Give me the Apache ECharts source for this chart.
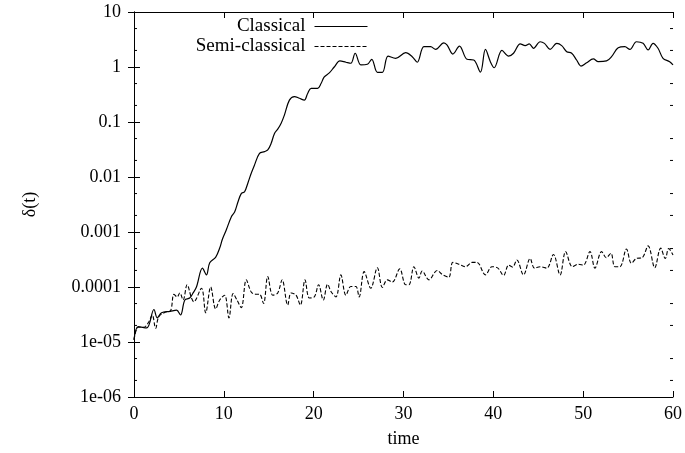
<!DOCTYPE html>
<html>
<head>
<meta charset="utf-8">
<script src="https://cdn.jsdelivr.net/npm/echarts@6/dist/echarts.min.js"></script>
<style>html,body{margin:0;padding:0;background:#fff}#c{width:685px;height:453px}</style>
</head>
<body>
<div id="c"></div>
<script>
const xTickLabels = ['0','10','20','30','40','50','60'];
const yTickValues = [1e-6, 1e-5, 1e-4, 1e-3, 1e-2, 0.1, 1, 10];
const yTickLabels = ['1e-06','1e-05','0.0001','0.001','0.01','0.1','1','10'];
const yMinorTicks = [2e-6,5e-6,2e-5,5e-5,2e-4,5e-4,2e-3,5e-3,0.02,0.05,0.2,0.5,2,5];

const classicalTime = [0,0.48,1.41,2.22,2.58,3.07,4.0,4.74,5.18,5.66,6.2,6.58,6.95,7.62,8.06,8.43,9.1,9.54,9.84,10.28,10.84,11.2,11.57,11.94,12.31,12.68,13.05,13.42,13.97,14.53,14.89,15.27,15.64,16.0,16.38,16.75,17.3,17.86,18.41,18.96,19.33,19.71,20.44,20.82,21.18,21.74,22.29,22.92,23.59,24.14,24.62,25.25,25.98,26.47,27.09,27.65,28.28,29.13,30.24,30.97,31.53,32.27,33.02,33.57,34.49,34.86,35.49,36.23,37.07,37.82,38.56,39.12,39.67,40.09,40.96,41.7,42.25,43.0,43.55,44.0,44.47,45.21,45.69,46.32,47.06,47.61,48.17,48.72,49.27,49.76,50.39,51.13,51.68,52.6,53.16,53.9,54.64,55.2,55.93,56.67,57.23,57.78,58.33,58.89,59.63,60];
const classicalDelta = [1.1e-5,1.9e-5,1.8e-5,3.9e-5,2.75e-5,3.4e-5,3.6e-5,3.8e-5,3.1e-5,5.8e-5,6.3e-5,7.8e-5,1.0e-4,2.2e-4,1.66e-4,2.75e-4,3.5e-4,5.1e-4,7.4e-4,1.1e-3,1.9e-3,2.3e-3,3.5e-3,5.0e-3,5.4e-3,7.8e-3,0.0117,0.0166,0.027,0.029,0.031,0.041,0.062,0.074,0.095,0.135,0.25,0.29,0.27,0.25,0.33,0.41,0.41,0.5,0.66,0.78,1.0,1.29,1.22,1.17,1.78,1.09,1.12,1.38,0.8,0.8,1.58,1.44,1.82,1.54,1.22,2.34,2.34,2.09,2.75,2.5,1.72,2.4,1.38,1.34,0.81,2.09,1.25,0.97,2.0,1.58,1.78,2.63,2.45,2.63,2.19,2.88,2.69,2.09,2.69,2.45,1.9,1.78,1.34,1.04,1.2,1.4,1.25,1.29,1.54,2.24,2.34,2.09,2.88,2.69,2.04,2.69,2.19,1.44,1.25,1.09];

const semiTime = [0,0.48,1.1,1.66,2.03,2.41,2.77,3.52,4.07,4.44,4.8,5.1,5.47,5.91,6.4,6.65,7.51,7.98,8.54,9.09,9.54,10.09,10.57,11.03,11.46,11.94,12.5,13.05,13.53,13.97,14.42,14.89,15.45,16.0,16.49,17.11,17.49,18.04,18.52,19.04,19.52,20.07,20.55,21.07,21.55,21.96,22.48,23.03,23.59,24.14,24.7,25.06,25.62,26.36,27.09,27.65,28.2,28.76,29.58,30.24,30.61,31.16,31.72,32.08,32.83,33.75,34.3,35.04,35.49,36.15,36.9,37.63,38.18,39.12,39.85,40.51,41.14,41.7,42.14,42.62,43.36,44.1,44.58,45.21,45.95,46.69,47.43,48.05,48.8,49.46,50.02,50.76,51.31,52.05,52.57,53.09,53.53,54.09,54.82,55.37,55.93,56.56,57.23,57.97,58.63,59.14,59.52,60];
const semiDelta = [1.1e-5,1.86e-5,1.86e-5,2.34e-5,3.1e-5,1.78e-5,2.9e-5,3.5e-5,3.7e-5,7.4e-5,6.6e-5,7.8e-5,5.8e-5,1.1e-4,6.3e-5,5.4e-5,9.5e-5,3.4e-5,1.0e-4,4.0e-5,5.8e-5,7.1e-5,2.75e-5,7.6e-5,5.8e-5,4.2e-5,1.35e-4,8.1e-5,7.4e-5,7.4e-5,5.0e-5,1.55e-4,7.1e-5,7.8e-5,1.35e-4,4.7e-5,7.8e-5,7.1e-5,4.7e-5,1.35e-4,6.3e-5,6.6e-5,1.1e-4,5.8e-5,1.12e-4,8.1e-5,6.6e-5,1.66e-4,7.1e-5,1.02e-4,1.02e-4,6.6e-5,1.9e-4,9.5e-5,2.24e-4,9.8e-5,1.35e-4,1.23e-4,2.14e-4,1.1e-4,1.1e-4,2.34e-4,1.45e-4,1.95e-4,1.35e-4,2.0e-4,1.7e-4,1.51e-4,2.8e-4,2.6e-4,2.34e-4,2.8e-4,2.8e-4,1.66e-4,2.34e-4,2.2e-4,1.62e-4,2.5e-4,2.3e-4,3.1e-4,1.66e-4,3.3e-4,2.2e-4,2.34e-4,2.2e-4,3.9e-4,1.66e-4,4.4e-4,2.34e-4,2.6e-4,2.5e-4,4.4e-4,2.2e-4,4.4e-4,3.4e-4,4.1e-4,2.34e-4,2.34e-4,4.9e-4,2.7e-4,3.3e-4,3.4e-4,5.6e-4,2.24e-4,5.1e-4,3.3e-4,5.0e-4,3.8e-4];

const FONT = '"Liberation Serif","DejaVu Serif",serif';
const chart = echarts.init(document.getElementById('c'), null, {renderer:'canvas'});

function yLabel(v){
  const lv = Math.log10(v);
  for (let i=0;i<yTickValues.length;i++){
    if (Math.abs(Math.log10(yTickValues[i]) - lv) < 1e-6) return yTickLabels[i];
  }
  return '';
}
const axisLineStyle = {show:true, lineStyle:{color:'#000', width:1}};
const tickStyle = {show:true, inside:true, length:6, lineStyle:{color:'#000', width:1}};

chart.setOption({
  animation:false,
  backgroundColor:'#fff',
  grid:{left:134, right:10, top:12, bottom:56, containLabel:false},
  legend:{
    orient:'vertical', align:'right', right:312, top:12,
    itemWidth:53, itemHeight:14, itemGap:1,
    itemStyle:{opacity:0},
    lineStyle:{width:1},
    textStyle:{fontFamily:FONT, fontSize:19, color:'#000', lineHeight:16, padding:[0,4,0,0]},
    data:['Classical','Semi-classical']
  },
  xAxis:[{
    type:'value', min:0, max:60, interval:10,
    axisLine:axisLineStyle, axisTick:tickStyle, splitLine:{show:false},
    axisLabel:{fontFamily:FONT, fontSize:18, color:'#000', margin:8,
      formatter:(v)=>xTickLabels[Math.round(v/10)]},
    name:'time', nameLocation:'middle', nameGap:33,
    nameTextStyle:{fontFamily:FONT, fontSize:18, color:'#000'}
  },{
    type:'value', min:0, max:60, interval:10, position:'top',
    axisLine:axisLineStyle, axisTick:tickStyle, splitLine:{show:false}, axisLabel:{show:false}
  }],
  yAxis:[{
    type:'log', logBase:10, min:1e-6, max:10, interval:1,
    axisLine:axisLineStyle, axisTick:tickStyle, splitLine:{show:false},
    axisLabel:{fontFamily:FONT, fontSize:18, color:'#000', margin:13, formatter:yLabel},
    name:'δ(t)', nameLocation:'middle', nameGap:95, nameRotate:90,
    nameTextStyle:{fontFamily:FONT, fontSize:18, color:'#000'}
  },{
    type:'log', logBase:10, min:1e-6, max:10, interval:1, position:'right',
    axisLine:axisLineStyle, axisTick:tickStyle, splitLine:{show:false}, axisLabel:{show:false}
  }],
  series:[{
    name:'Classical', type:'line', xAxisIndex:0, yAxisIndex:0,
    data: classicalTime.map((t,i)=>[t, classicalDelta[i]]),
    showSymbol:false, symbol:'none', smooth:0.35,
    lineStyle:{color:'#000', width:1.2, type:'solid'}, itemStyle:{color:'#000'}
  },{
    name:'Semi-classical', type:'line', xAxisIndex:0, yAxisIndex:0,
    data: semiTime.map((t,i)=>[t, semiDelta[i]]),
    showSymbol:false, symbol:'none', smooth:0.35,
    lineStyle:{color:'#000', width:1.1, type:[4,2]}, itemStyle:{color:'#000'}
  },{
    type:'custom', xAxisIndex:0, yAxisIndex:0, silent:true, clip:false,
    data: yMinorTicks.map(v=>[0, v]),
    renderItem:function(params, api){
      const l = api.coord([0, api.value(1)]);
      const r = api.coord([60, api.value(1)]);
      return {type:'group', children:[
        {type:'line', shape:{x1:l[0], y1:l[1], x2:l[0]+3, y2:l[1]}, style:{stroke:'#000', lineWidth:1}},
        {type:'line', shape:{x1:r[0]-3, y1:r[1], x2:r[0], y2:r[1]}, style:{stroke:'#000', lineWidth:1}}
      ]};
    }
  }]
});
</script>
</body>
</html>
